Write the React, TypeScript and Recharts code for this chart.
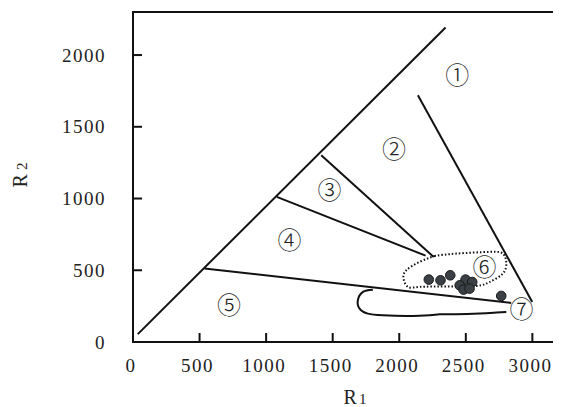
import React from "react";
import {
  ComposedChart,
  Line,
  Scatter,
  XAxis,
  YAxis,
  ReferenceArea,
} from "recharts";

// R1-R2 classification diagram
const X_TICKS = [0, 500, 1000, 1500, 2000, 2500, 3000];
const Y_TICKS = [0, 500, 1000, 1500, 2000];

// field boundaries (R1, R2)
const mainDiagonal = [
  { x: 36, y: 55 },
  { x: 2348, y: 2192 },
];
const line12 = [
  { x: 2140, y: 1720 },
  { x: 2999, y: 279 },
];
const line23 = [
  { x: 1414, y: 1302 },
  { x: 2258, y: 593 },
];
const line34 = [
  { x: 1080, y: 1011 },
  { x: 2198, y: 602 },
];
const line45 = [
  { x: 537, y: 512 },
  { x: 2841, y: 272 },
];

// dotted field (6)
const field6 = [
  { x: 2265, y: 600 },
  { x: 2428, y: 616 },
  { x: 2678, y: 628 },
  { x: 2778, y: 616 },
  { x: 2804, y: 558 },
  { x: 2778, y: 477 },
  { x: 2678, y: 418 },
  { x: 2579, y: 391 },
  { x: 2350, y: 386 },
  { x: 2152, y: 384 },
  { x: 2065, y: 384 },
  { x: 2032, y: 442 },
  { x: 2053, y: 500 },
  { x: 2152, y: 558 },
  { x: 2265, y: 600 },
];

// solid outline (7)
const field7 = [
  { x: 1802, y: 365 },
  { x: 1727, y: 349 },
  { x: 1689, y: 291 },
  { x: 1702, y: 233 },
  { x: 1764, y: 198 },
  { x: 1877, y: 186 },
  { x: 2053, y: 181 },
  { x: 2228, y: 186 },
  { x: 2303, y: 193 },
  { x: 2428, y: 193 },
  { x: 2603, y: 198 },
  { x: 2729, y: 205 },
  { x: 2804, y: 209 },
];

const samples = [
  { x: 2222, y: 435 },
  { x: 2310, y: 430 },
  { x: 2383, y: 465 },
  { x: 2498, y: 435 },
  { x: 2548, y: 418 },
  { x: 2454, y: 395 },
  { x: 2483, y: 365 },
  { x: 2528, y: 372 },
  { x: 2766, y: 321 },
];

const fieldLabels = [
  { x: 2435, y: 1860, label: "①" },
  { x: 1960, y: 1344, label: "②" },
  { x: 1476, y: 1058, label: "③" },
  { x: 1176, y: 709, label: "④" },
  { x: 722, y: 256, label: "⑤" },
  { x: 2641, y: 521, label: "⑥" },
  { x: 2919, y: 228, label: "⑦" },
];

const INK = "#111";
const SERIF = "'Liberation Serif', 'Times New Roman', serif";

const XTick = (props: any) => {
  const { x, y, payload } = props;
  return (
    <g>
      {payload.value !== 0 && (
        <line x1={x} x2={x} y1={y} y2={y - 9} stroke={INK} strokeWidth={2} />
      )}
      <text
        x={x - 2}
        y={y + 23}
        dy="0.35em"
        textAnchor="middle"
        fontFamily={SERIF}
        fontSize={19}
        letterSpacing={1.5}
        fill="#222"
      >
        {payload.value}
      </text>
    </g>
  );
};

const YTick = (props: any) => {
  const { x, y, payload } = props;
  return (
    <g>
      {payload.value !== 0 && (
        <line x1={x} x2={x + 9} y1={y} y2={y} stroke={INK} strokeWidth={2} />
      )}
      <text
        x={x - 27}
        y={y}
        dy="0.35em"
        textAnchor="end"
        fontFamily={SERIF}
        fontSize={19}
        letterSpacing={1.5}
        fill="#222"
      >
        {payload.value}
      </text>
    </g>
  );
};

const XTitle = (props: any) => {
  const { viewBox } = props;
  return (
    <text
      x={viewBox.x + 222}
      y={viewBox.y + 62}
      textAnchor="middle"
      fontFamily={SERIF}
      fontSize={20}
      fill="#222"
    >
      R<tspan fontSize={15} dx={2}>1</tspan>
    </text>
  );
};

const YTitle = () => {
  const cx = 19;
  const cy = 167;
  return (
    <text
      x={cx}
      y={cy}
      transform={`rotate(-90, ${cx}, ${cy})`}
      textAnchor="middle"
      fontFamily={SERIF}
      fontSize={20}
      fill="#222"
    >
      R<tspan fontSize={15} dx={4}>2</tspan>
    </text>
  );
};

const SampleDot = (props: any) => {
  const { cx, cy } = props;
  return <circle cx={cx} cy={cy} r={4.8} fill="#3a4045" stroke="#1a1a1a" strokeWidth={1} />;
};

const FieldLabel = (props: any) => {
  const { cx, cy, payload } = props;
  return (
    <text
      x={cx}
      y={cy}
      dy="0.36em"
      textAnchor="middle"
      fontFamily="'Noto Sans CJK SC', 'DejaVu Sans', sans-serif"
      fontSize={24}
      fontWeight={300}
      fill="#222"
    >
      {payload.label}
    </text>
  );
};

export default function App() {
  return (
    <div style={{ background: "#fff" }}>
      <ComposedChart
        width={553}
        height={399}
        margin={{ top: 4, right: 2, bottom: 0, left: 0 }}
      >
        <XAxis
          type="number"
          dataKey="x"
          domain={[0, 3200]}
          ticks={X_TICKS}
          interval={0}
          height={65}
          tickSize={0}
          tickMargin={0}
          tickLine={false}
          axisLine={{ stroke: INK, strokeWidth: 2 }}
          tick={<XTick />}
          label={<XTitle />}
        />
        <YAxis
          type="number"
          dataKey="y"
          domain={[0, 2300]}
          ticks={Y_TICKS}
          interval={0}
          width={125}
          tickSize={0}
          tickMargin={0}
          tickLine={false}
          axisLine={{ stroke: INK, strokeWidth: 2 }}
          tick={<YTick />}
          label={<YTitle />}
        />
        <ReferenceArea
          x1={0}
          x2={3200}
          y1={0}
          y2={2300}
          fill="none"
          stroke={INK}
          strokeWidth={2}
          fillOpacity={0}
        />
        {[mainDiagonal, line12, line23, line34, line45].map((d, i) => (
          <Line
            key={`b${i}`}
            data={d}
            dataKey="y"
            type="linear"
            stroke={INK}
            strokeWidth={2}
            dot={false}
            activeDot={false}
            isAnimationActive={false}
          />
        ))}
        <Line
          data={field6}
          dataKey="y"
          type="natural"
          stroke={INK}
          strokeWidth={2}
          strokeDasharray="1.5 2"
          dot={false}
          activeDot={false}
          isAnimationActive={false}
        />
        <Line
          data={field7}
          dataKey="y"
          type="natural"
          stroke={INK}
          strokeWidth={2}
          dot={false}
          activeDot={false}
          isAnimationActive={false}
        />
        <Scatter
          data={samples}
          dataKey="y"
          shape={<SampleDot />}
          isAnimationActive={false}
        />
        <Scatter
          data={fieldLabels}
          dataKey="y"
          shape={<FieldLabel />}
          isAnimationActive={false}
        />
      </ComposedChart>
    </div>
  );
}
